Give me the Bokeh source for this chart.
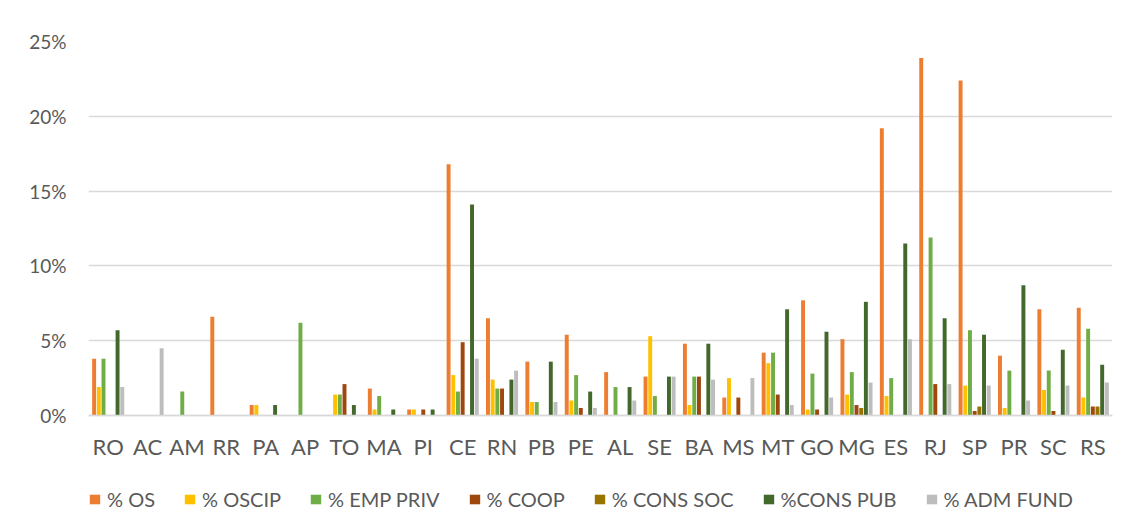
from bokeh.plotting import figure
from bokeh.models import (ColumnDataSource, FactorRange, Range1d, Legend, LegendItem,
                          PrintfTickFormatter, FixedTicker, CategoricalAxis, BoxAnnotation)
from bokeh.transform import dodge
from bokeh.embed import file_html
from bokeh.resources import INLINE

states = ["RO", "AC", "AM", "RR", "PA", "AP", "TO", "MA", "PI", "CE", "RN", "PB", "PE",
          "AL", "SE", "BA", "MS", "MT", "GO", "MG", "ES", "RJ", "SP", "PR", "SC", "RS"]

pct_os = [3.8, 0, 0, 6.6, 0.7, 0, 0, 1.8, 0.4, 16.8, 6.5, 3.6, 5.4,
          2.9, 2.6, 4.8, 1.2, 4.2, 7.7, 5.1, 19.2, 23.9, 22.4, 4.0, 7.1, 7.2]
pct_oscip = [1.9, 0, 0, 0, 0.7, 0, 1.4, 0.4, 0.4, 2.7, 2.4, 0.9, 1.0,
             0, 5.3, 0.7, 2.5, 3.5, 0.4, 1.4, 1.3, 0, 2.0, 0.5, 1.7, 1.2]
pct_emp_priv = [3.8, 0, 1.6, 0, 0, 6.2, 1.4, 1.3, 0, 1.6, 1.8, 0.9, 2.7,
                1.9, 1.3, 2.6, 0, 4.2, 2.8, 2.9, 2.5, 11.9, 5.7, 3.0, 3.0, 5.8]
pct_coop = [0, 0, 0, 0, 0, 0, 2.1, 0, 0.4, 4.9, 1.8, 0, 0.5,
            0, 0, 2.6, 1.2, 1.4, 0.4, 0.7, 0, 2.1, 0.3, 0, 0.3, 0.6]
pct_cons_soc = [0, 0, 0, 0, 0, 0, 0, 0, 0, 0, 0, 0, 0,
                0, 0, 0, 0, 0, 0, 0.5, 0, 0, 0.6, 0, 0, 0.6]
pct_cons_pub = [5.7, 0, 0, 0, 0.7, 0, 0.7, 0.4, 0.4, 14.1, 2.4, 3.6, 1.6,
                1.9, 2.6, 4.8, 0, 7.1, 5.6, 7.6, 11.5, 6.5, 5.4, 8.7, 4.4, 3.4]
pct_adm_fund = [1.9, 4.5, 0, 0, 0, 0, 0, 0, 0, 3.8, 3.0, 0.9, 0.5,
                1.0, 2.6, 2.4, 2.5, 0.7, 1.2, 2.2, 5.1, 2.1, 2.0, 1.0, 2.0, 2.2]

series_labels = ["% OS", "% OSCIP", "% EMP PRIV", "% COOP", "% CONS SOC", "%CONS PUB", "% ADM FUND"]
series_keys = ["os", "oscip", "emp_priv", "coop", "cons_soc", "cons_pub", "adm_fund"]
series_colors = ["#ED7D31", "#FFC000", "#70AD47", "#9E480E", "#997300", "#43682B", "#BDBDBD"]
y_ticks = [0, 5, 10, 15, 20, 25]

src = ColumnDataSource(data=dict(
    states=states, os=pct_os, oscip=pct_oscip, emp_priv=pct_emp_priv, coop=pct_coop,
    cons_soc=pct_cons_soc, cons_pub=pct_cons_pub, adm_fund=pct_adm_fund))

FONT = "Lato"
TXT = "#595959"

# frame runs from y=41 to the bottom (516); 0% sits at y=415 -> lower bound below zero
y_low = -(516 - 415) / ((415 - 41) / 25)

p = figure(x_range=FactorRange(*states, range_padding=0), y_range=Range1d(y_low, 25),
           width=1122, height=516, output_backend="svg", toolbar_location=None,
           x_axis_location=None,
           min_border_left=88, min_border_right=10, min_border_top=41, min_border_bottom=0)
p.outline_line_color = None
p.background_fill_color = "white"
p.border_fill_color = "white"

# light chart-area border (left and top edges visible in the reference)
p.add_layout(BoxAnnotation(left=7, right=1300, top=11, bottom=900,
                           left_units="canvas", right_units="canvas",
                           top_units="canvas", bottom_units="canvas",
                           fill_alpha=0, line_color="#D9D9D9", line_width=1))

step = 0.119
renderers = []
for i, (k, c) in enumerate(zip(series_keys, series_colors)):
    r = p.vbar(x=dodge("states", (i - 3) * step, range=p.x_range), top=k, width=0.1,
               bottom=0, source=src, fill_color=c, line_color=None)
    renderers.append(r)

xaxis = CategoricalAxis(fixed_location=0)
xaxis.axis_line_color = "#D9D9D9"
xaxis.axis_line_width = 1.5
xaxis.major_tick_line_color = None
xaxis.minor_tick_line_color = None
xaxis.major_tick_out = 0
xaxis.major_tick_in = 0
xaxis.major_label_standoff = 17
xaxis.major_label_text_font = FONT
xaxis.major_label_text_font_size = "22px"
xaxis.major_label_text_color = TXT
p.add_layout(xaxis, "below")

p.yaxis.ticker = FixedTicker(ticks=y_ticks)
p.yaxis.formatter = PrintfTickFormatter(format="%d%%")
p.yaxis.axis_line_color = None
p.yaxis.major_tick_line_color = None
p.yaxis.minor_tick_line_color = None
p.yaxis.major_tick_out = 0
p.yaxis.major_tick_in = 0
p.yaxis.major_label_standoff = 22
p.yaxis.major_label_text_font = FONT
p.yaxis.major_label_text_font_size = "19px"
p.yaxis.major_label_text_color = TXT

p.xgrid.grid_line_color = None
p.ygrid.ticker = FixedTicker(ticks=y_ticks)
p.ygrid.grid_line_color = "#D9D9D9"
p.ygrid.grid_line_width = 1.5

legend = Legend(items=[LegendItem(label=l, renderers=[r]) for l, r in zip(series_labels, renderers)],
                orientation="horizontal", location=(0, 5),
                label_text_font=FONT, label_text_font_size="20px", label_text_color=TXT,
                glyph_width=13, glyph_height=12, label_standoff=6, spacing=28,
                border_line_color=None, background_fill_alpha=0, padding=0, margin=0)
p.add_layout(legend)

open("out.html", "w").write(file_html(p, INLINE))
